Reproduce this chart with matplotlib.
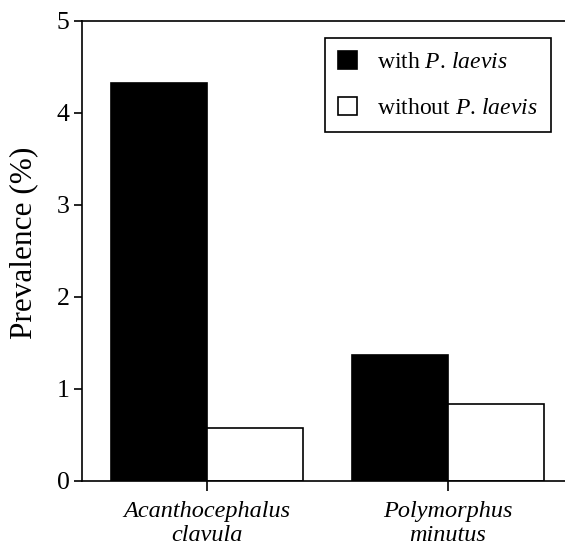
import matplotlib
matplotlib.use("Agg")
import matplotlib.pyplot as plt
import numpy as np

plt.rcParams['font.family'] = ['Liberation Serif', 'DejaVu Serif']
plt.rcParams['mathtext.fontset'] = 'custom'
plt.rcParams['mathtext.it'] = 'Liberation Serif:italic'
plt.rcParams['mathtext.rm'] = 'Liberation Serif'

# Data
categories = ['Acanthocephalus\nclavula', 'Polymorphus\nminutus']
with_laevis = [4.32, 1.36]
without_laevis = [0.57, 0.83]
series_labels = [r'with $\it{P}$. $\it{laevis}$', r'without $\it{P}$. $\it{laevis}$']

fig = plt.figure(figsize=(5.65, 5.46), dpi=100)
left_px = 82
ax = fig.add_axes([left_px / 565, (546 - 480.5) / 546, (565 - left_px) / 565, 460 / 546])

x = np.arange(len(categories))
w = 0.40
ax.bar(x - w / 2, with_laevis, w, color='black', edgecolor='black', linewidth=1.2,
       label=series_labels[0])
ax.bar(x + w / 2, without_laevis, w, color='white', edgecolor='black', linewidth=1.2,
       label=series_labels[1])

ax.set_xlim(-(207 - left_px) / 241, 1 + (565 - 448) / 241)
ax.set_ylim(0, 5)
ax.set_yticks(range(6))
ax.set_xticks(x)
ax.set_xticklabels(categories, fontsize=17.5, style='italic', linespacing=1.15)
ax.tick_params(axis='y', labelsize=18.5, length=6, width=1.2, pad=3)
ax.tick_params(axis='x', length=7, width=1.2, pad=8)

for side in ['left', 'bottom', 'top']:
    ax.spines[side].set_linewidth(1.2)
ax.spines['right'].set_visible(False)

ax.set_ylabel('Prevalence (%)', fontsize=22.5)
ax.yaxis.set_label_coords(-(left_px - 38) / (565 - left_px), 0.516)

leg = ax.legend(loc='upper right', bbox_to_anchor=((551 - left_px) / (565 - left_px), (480.5 - 38) / 460),
                borderaxespad=0, fontsize=17, fancybox=False, edgecolor='black', framealpha=1,
                handlelength=0.8, handleheight=0.8, labelspacing=1.0,
                borderpad=0.55, handletextpad=0.85)
leg.get_frame().set_linewidth(1.2)

fig.savefig('out.png', dpi=100)
